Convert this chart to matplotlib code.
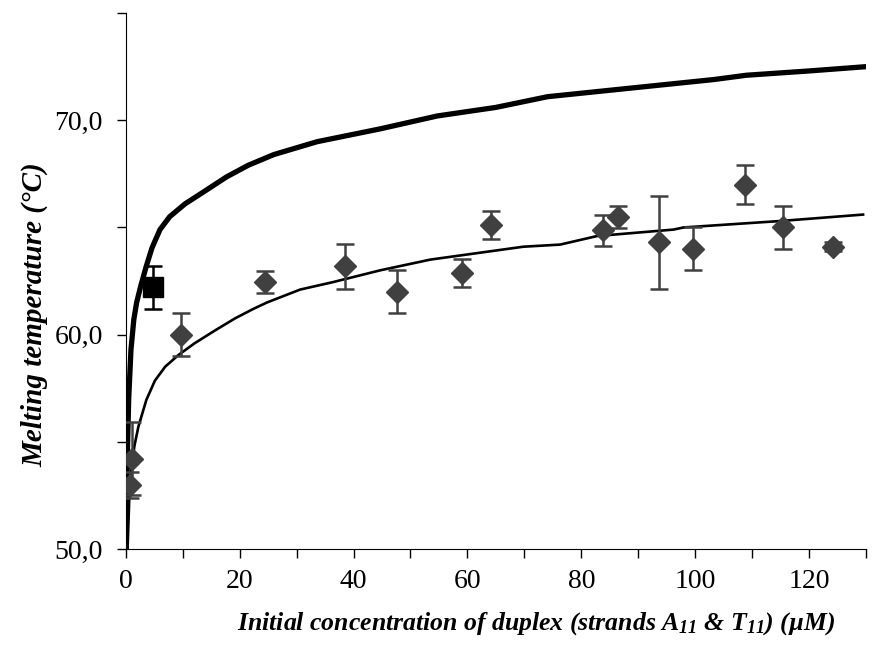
import matplotlib
matplotlib.use("Agg")
import matplotlib.pyplot as plt
from matplotlib.ticker import MultipleLocator, FuncFormatter

plt.rcParams['font.family'] = ['Liberation Serif', 'DejaVu Serif']
plt.rcParams['mathtext.fontset'] = 'custom'
plt.rcParams['mathtext.rm'] = 'Liberation Serif:bold:italic'
plt.rcParams['mathtext.it'] = 'Liberation Serif:bold:italic'
plt.rcParams['mathtext.bf'] = 'Liberation Serif:bold:italic'

# Measured melting temperatures (diamonds)
conc = [0.8, 1.0, 9.7, 24.4, 38.5, 47.7, 59.1, 64.2, 83.9, 86.4, 93.6, 99.6, 108.7, 115.4, 124.2]
tm = [53.0, 54.2, 60.0, 62.45, 63.2, 62.0, 62.87, 65.1, 64.87, 65.48, 64.3, 64.0, 67.0, 65.0, 64.1]
tm_err = [0.6, 1.7, 1.0, 0.5, 1.05, 1.0, 0.65, 0.65, 0.73, 0.5, 2.15, 1.0, 0.9, 1.0, 0.2]

# Single black square point
sq_conc = [4.75]
sq_tm = [62.2]
sq_err = [1.0]

# Thick model curve
thick_x = [0.02, 0.3, 0.5, 0.9, 1.4, 1.9, 2.6, 3.6, 4.6, 6.0, 7.7, 10.4, 13.9, 17.7, 21.5,
           26.0, 33.6, 44.7, 54.7, 65.0, 74.1, 88.7, 103.3, 109.0, 120.0, 130.0]
thick_y = [50.0, 54.8, 57.0, 59.3, 60.7, 61.5, 62.25, 63.2, 64.05, 64.9, 65.5, 66.1, 66.7, 67.36,
           67.9, 68.4, 69.0, 69.6, 70.2, 70.6, 71.1, 71.5, 71.9, 72.1, 72.3, 72.5]

# Thin fit curve
thin_x = [0.3, 0.7, 1.5, 2.2, 3.6, 5.1, 6.9, 9.2, 12.1, 15.7, 19.2, 22.4, 24.8, 30.6, 36.4,
          44.7, 53.5, 69.8, 76.3, 82.8, 96.2, 98.0, 115.0, 129.5]
thin_y = [50.0, 53.1, 54.8, 55.7, 56.95, 57.85, 58.5, 59.04, 59.6, 60.2, 60.76, 61.2, 61.5, 62.1,
          62.45, 63.0, 63.5, 64.1, 64.2, 64.6, 64.9, 65.0, 65.3, 65.6]

fig = plt.figure(figsize=(8.8, 6.54), dpi=100)
ax = fig.add_axes([0.143, 0.1606, 0.841, 0.8194])

ax.plot(thick_x, thick_y, color='black', lw=3.8, solid_capstyle='round',
        solid_joinstyle='round', zorder=3)
ax.plot(thin_x, thin_y, color='black', lw=1.9, solid_joinstyle='round', zorder=3)

ax.errorbar(conc, tm, yerr=tm_err, fmt='D', color='#404040', ms=11, mec='#404040',
            ecolor='#404040', elinewidth=1.8, capsize=6.5, capthick=1.8, zorder=4)
ax.errorbar(sq_conc, sq_tm, yerr=sq_err, fmt='s', color='black', ms=14,
            ecolor='black', elinewidth=1.8, capsize=6.5, capthick=1.8, zorder=4)

ax.set_xlim(0, 130)
ax.set_ylim(50, 75)
ax.spines['top'].set_visible(False)
ax.spines['right'].set_visible(False)

ax.xaxis.set_major_locator(MultipleLocator(20))
ax.xaxis.set_minor_locator(MultipleLocator(10))
ax.yaxis.set_major_locator(MultipleLocator(10))
ax.yaxis.set_minor_locator(MultipleLocator(5))
ax.yaxis.set_major_formatter(FuncFormatter(lambda v, p: f"{v:.1f}".replace('.', ',')))
ax.tick_params(which='both', direction='out', length=6.5, width=1, labelsize=20)
ax.tick_params(axis='x', pad=8)
ax.tick_params(axis='y', pad=10)

ax.set_xlabel(r'Initial concentration of duplex (strands A$_{11}$ & T$_{11}$) (µM)',
              fontsize=18.5, fontweight='bold', fontstyle='italic')
ax.set_ylabel('Melting temperature (°C)', fontsize=21, fontweight='bold',
              fontstyle='italic')
ax.xaxis.set_label_coords(0.554, -0.114)
ax.yaxis.set_label_coords(-0.105, 0.437)

fig.savefig('out.png', dpi=100)
